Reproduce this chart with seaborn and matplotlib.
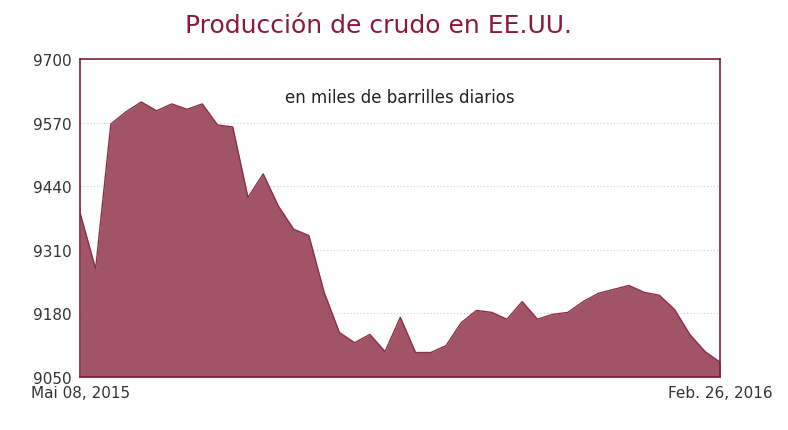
import matplotlib
matplotlib.use("Agg")
import matplotlib.pyplot as plt
import seaborn as sns
import pandas as pd
import numpy as np

values = [9383, 9271, 9567, 9592, 9612, 9594, 9608, 9597, 9608, 9565, 9561, 9417,
          9465, 9399, 9352, 9339, 9223, 9141, 9120, 9137, 9102, 9172, 9100, 9100,
          9114, 9161, 9186, 9182, 9168, 9204, 9168, 9178, 9182, 9204, 9221, 9229,
          9237, 9223, 9217, 9188, 9137, 9102, 9080]
yticks = [9050, 9180, 9310, 9440, 9570, 9700]
xlabels = ["Mai 08, 2015", "Feb. 26, 2016"]

df = pd.DataFrame({"week": np.arange(len(values)), "value": values})

sns.set_style("white")
fig, ax = plt.subplots(figsize=(7.88, 4.31), dpi=100)
fig.subplots_adjust(left=0.102, right=0.914, top=0.861, bottom=0.123)
sns.lineplot(data=df, x="week", y="value", ax=ax, color="#8a3046", linewidth=1)
ax.fill_between(df["week"], df["value"], 9050, color="#9c4b5e", alpha=0.95, linewidth=0)
ax.set_xlim(0, len(values) - 1)
ax.set_ylim(9050, 9700)
ax.set_yticks(yticks)
ax.set_yticklabels([str(t) for t in yticks], fontsize=11, color="#333333")
ax.set_xticks([0, len(values) - 1])
ax.set_xticklabels(xlabels, fontsize=11, color="#333333")
ax.get_xticklabels()[0].set_ha("center")
ax.tick_params(length=0, pad=6)
ax.set_xlabel(""); ax.set_ylabel("")
for t in yticks[1:-1]:
    ax.axhline(t, color="#cccccc", linestyle=(0, (1, 2)), linewidth=0.8, zorder=0)
for s in ax.spines.values():
    s.set_color("#7a1f35"); s.set_linewidth(1.2)
ax.text(0.5, 0.88, "en miles de barrilles diarios", transform=ax.transAxes,
        ha="center", va="center", fontsize=12, color="#222222")
fig.text(0.48, 0.94, "Producción de crudo en EE.UU.", ha="center", va="center",
         fontsize=18, color="#8b1a3a")
fig.savefig("out.png", dpi=100)
